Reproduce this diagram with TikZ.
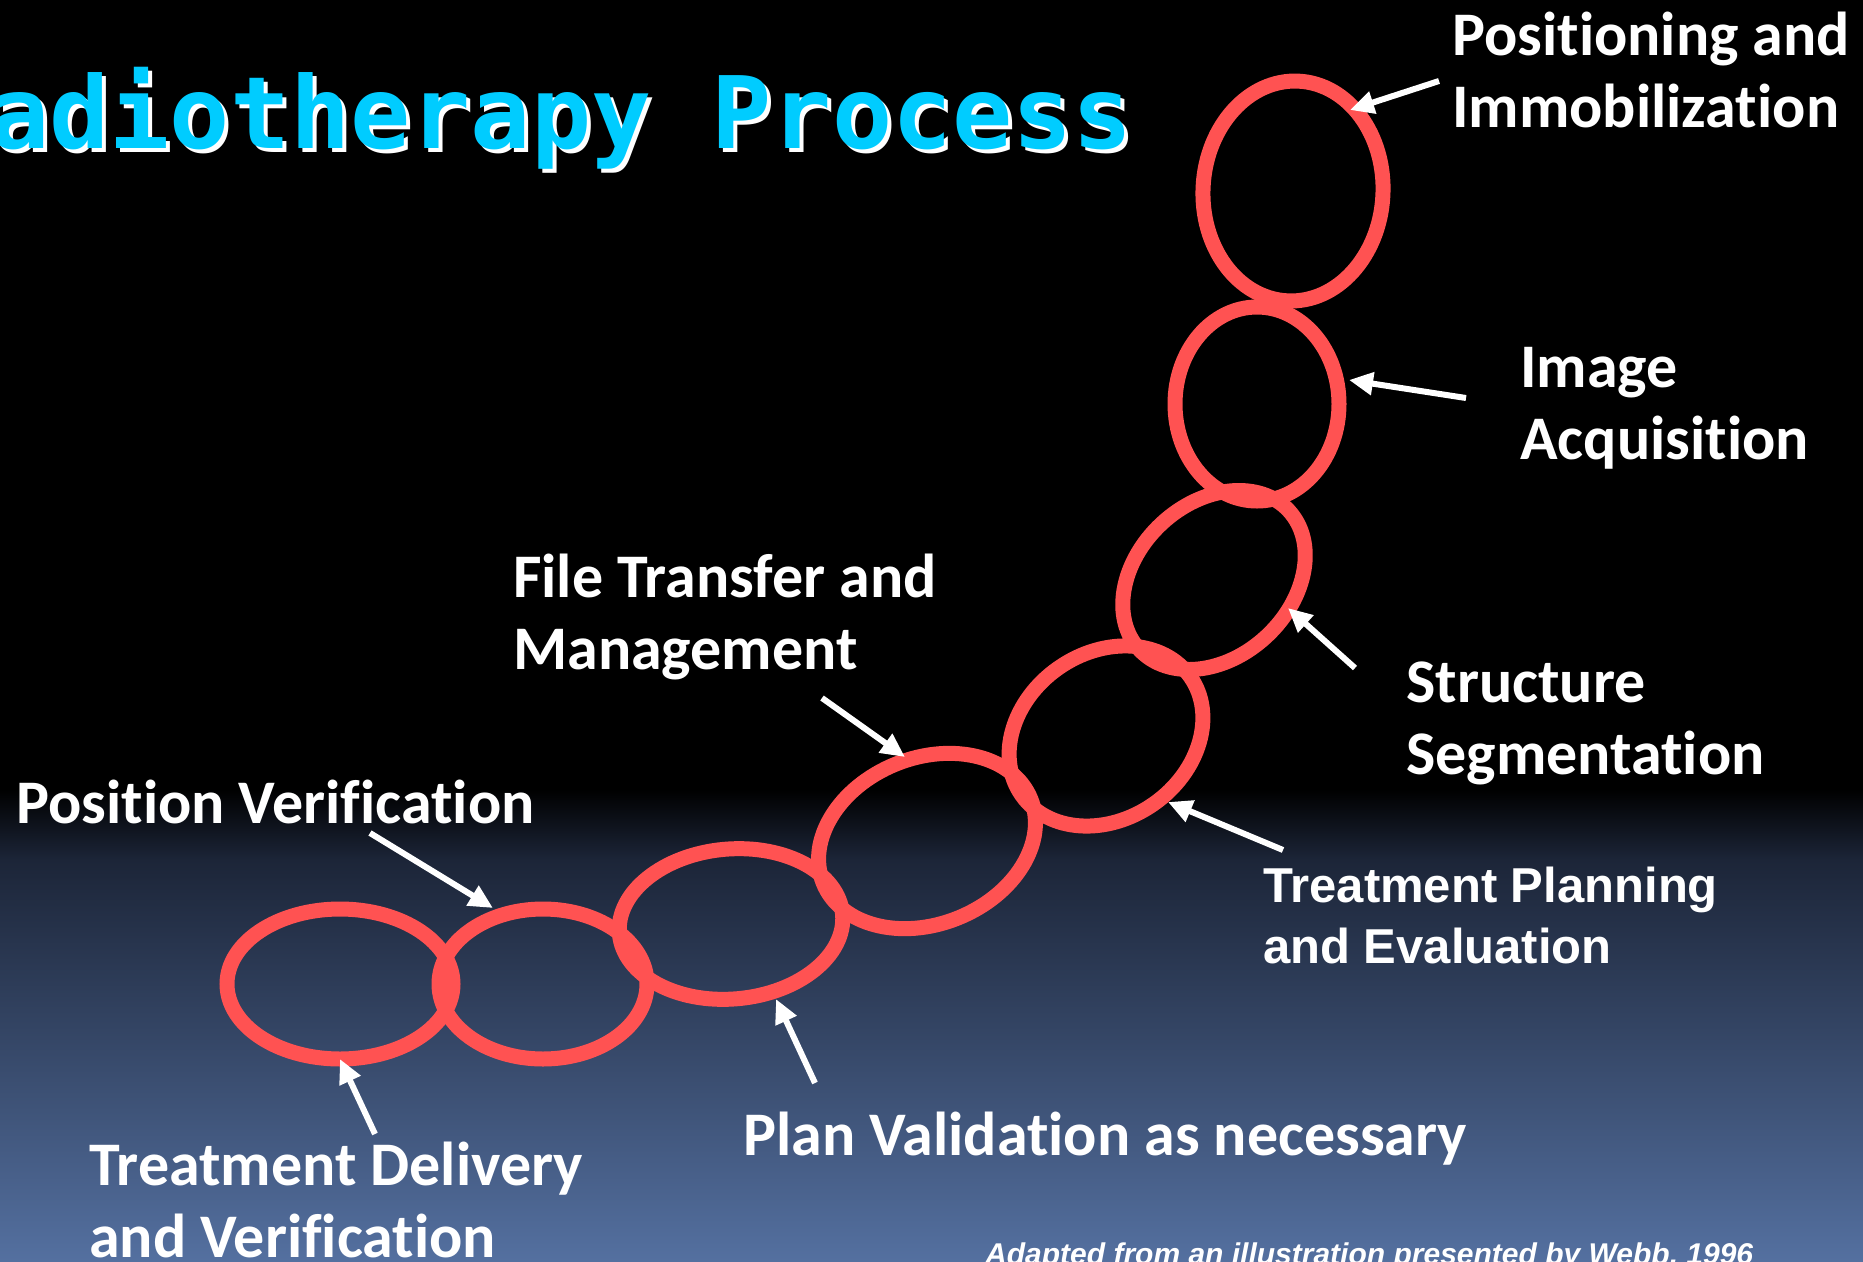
\documentclass[tikz,border=0pt]{standalone}
\usepackage{fontspec}
\usetikzlibrary{arrows.meta}
\newfontfamily\labelfont{Carlito}[Ligatures=NoCommon]
\newfontfamily\arialfont{Liberation Sans}
\newfontfamily\titlefont{DejaVu Sans Mono}
\definecolor{ringred}{RGB}{255,82,82}
\definecolor{titlecyan}{RGB}{0,204,255}
\definecolor{bgmid}{RGB}{28,37,56}
\definecolor{bglow}{RGB}{84,112,160}
\pgfdeclareverticalshading{dusk}{100bp}{color(0bp)=(bglow); color(25bp)=(bglow); color(67.5bp)=(bgmid); color(75bp)=(black); color(100bp)=(black)}
\tikzset{>={Triangle[length=24pt,width=22pt]}}
\tikzset{
  ring/.style={draw=ringred,line width=15pt},
  pointer/.style={draw=white,line width=6pt,->},
  steplabel/.style={text=white,inner sep=0pt,anchor=base west,align=left,font={\labelfont\bfseries\fontsize{62pt}{72pt}\selectfont}},
  titletext/.style={inner sep=0pt,anchor=base west,font={\titlefont\bfseries\fontsize{100pt}{110pt}\selectfont}},
  % one style per ring: centre, tilt, radii
  ringpos/.style={shift={(1293,191)},rotate=-3,x radius=90,y radius=110},
  ringimg/.style={shift={(1257,404)},x radius=82,y radius=97},
  ringseg/.style={shift={(1214,580)},rotate=43,x radius=102,y radius=77},
  ringplan/.style={shift={(1106,736)},rotate=35,x radius=103,y radius=83},
  ringfile/.style={shift={(927,841)},rotate=22,x radius=112,y radius=83},
  ringvalid/.style={shift={(731,924)},rotate=5,x radius=112,y radius=75},
  ringverif/.style={shift={(543,984)},x radius=104,y radius=75},
  ringdeliv/.style={shift={(340,984)},x radius=113,y radius=75}
}

\begin{document}
\begin{tikzpicture}[x=1pt,y=-1pt]
\clip (0,0) rectangle (1863,1261);
\fill[black] (0,0) rectangle (1863,790);
\shade[shading=dusk] (0,789) rectangle (1863,1261);

% title with its white drop shadow
\node[titletext,text=white] (titleshadow) at (-67,152) {Radiotherapy Process};
\node[titletext,text=titlecyan] (title) at (-71,148) {Radiotherapy Process};

% solid lenses where neighbouring rings overlap
\begin{scope}
\clip[ringpos] (0,0) ellipse [];
\fill[ringred,ringimg] (0,0) ellipse [];
\end{scope}
\begin{scope}
\clip[ringimg] (0,0) ellipse [];
\fill[ringred,ringseg] (0,0) ellipse [];
\end{scope}
\begin{scope}
\clip[ringseg] (0,0) ellipse [];
\fill[ringred,ringplan] (0,0) ellipse [];
\end{scope}
\begin{scope}
\clip[ringplan] (0,0) ellipse [];
\fill[ringred,ringfile] (0,0) ellipse [];
\end{scope}
\begin{scope}
\clip[ringfile] (0,0) ellipse [];
\fill[ringred,ringvalid] (0,0) ellipse [];
\end{scope}
\begin{scope}
\clip[ringvalid] (0,0) ellipse [];
\fill[ringred,ringverif] (0,0) ellipse [];
\end{scope}
\begin{scope}
\clip[ringverif] (0,0) ellipse [];
\fill[ringred,ringdeliv] (0,0) ellipse [];
\end{scope}

% the chain
\draw[ring,ringpos] (0,0) ellipse [];
\draw[ring,ringimg] (0,0) ellipse [];
\draw[ring,ringseg] (0,0) ellipse [];
\draw[ring,ringplan] (0,0) ellipse [];
\draw[ring,ringfile] (0,0) ellipse [];
\draw[ring,ringvalid] (0,0) ellipse [];
\draw[ring,ringverif] (0,0) ellipse [];
\draw[ring,ringdeliv] (0,0) ellipse [];

% labels (multi-line ones sit on the baseline of their last line)
\node[steplabel] (pos) at (1452,127) {Positioning and\\Immobilization};
\node[steplabel] (img) at (1520,459) {Image\\Acquisition};
\node[steplabel] (seg) at (1406,774) {Structure\\Segmentation};
\node[steplabel] (file) at (513,669) {File Transfer and\\Management};
\node[steplabel] (verif) at (16,823) {Position Verification};
\node[steplabel] (deliv) at (89,1257) {Treatment Delivery\\and Verification};
\node[steplabel] (valid) at (743,1155) {Plan Validation as necessary};
\node[text=white,inner sep=0pt,anchor=base west,align=left,font={\arialfont\bfseries\fontsize{49pt}{61pt}\selectfont}] (plan) at (1263,963) {Treatment Planning\\and Evaluation};
\node[text=white,inner sep=0pt,anchor=base west,font={\arialfont\bfseries\itshape\fontsize{30pt}{36pt}\selectfont}] (credit) at (985,1264) {Adapted from an illustration presented by Webb, 1996};

% pointers
\coordinate (posTail) at (1439,81);
\coordinate (posTip) at (1350,110);
\coordinate (imgTail) at (1466,398);
\coordinate (imgTip) at (1349,380);
\coordinate (segTail) at (1355,668);
\coordinate (segTip) at (1288,608);
\coordinate (planTail) at (1283,850);
\coordinate (planTip) at (1168,802);
\coordinate (fileTail) at (822,698);
\coordinate (fileTip) at (905,757);
\coordinate (validTail) at (815,1083);
\coordinate (validTip) at (776,999);
\coordinate (verifTail) at (370,833);
\coordinate (verifTip) at (493,908);
\coordinate (delivTail) at (375,1134);
\coordinate (delivTip) at (340,1059);
\draw[pointer] (posTail) -- (posTip);
\draw[pointer] (imgTail) -- (imgTip);
\draw[pointer] (segTail) -- (segTip);
\draw[pointer] (planTail) -- (planTip);
\draw[pointer] (fileTail) -- (fileTip);
\draw[pointer] (validTail) -- (validTip);
\draw[pointer] (verifTail) -- (verifTip);
\draw[pointer] (delivTail) -- (delivTip);
\end{tikzpicture}
\end{document}
